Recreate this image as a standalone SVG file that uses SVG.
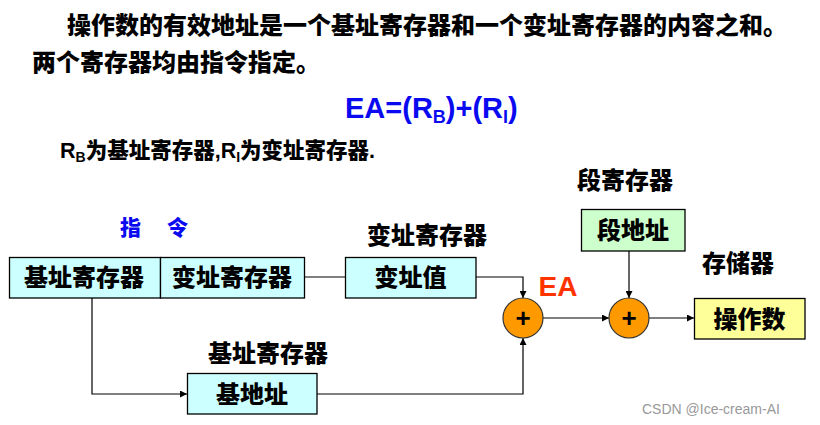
<svg xmlns="http://www.w3.org/2000/svg" width="820" height="425" viewBox="0 0 820 425">
<defs>
<style>
.t{font-family:"Liberation Sans","Noto Sans CJK SC",sans-serif;font-weight:900;fill:#000}
.lbl{font-size:24px;text-anchor:middle}
.box{stroke:#000;stroke-width:1.3}
.cy{fill:#CCFFFF}
.gr{fill:#CCFFCC}
.ye{fill:#FFFF99}
.add{fill:#FF9900;stroke:#333;stroke-width:1.2}
.ln{fill:none;stroke:#000;stroke-width:1.2}
.blue{fill:#0A0AF0}
.plus{font-family:"Liberation Sans",sans-serif;font-size:26px;font-weight:bold;text-anchor:middle;fill:#000}
</style>
<marker id="ar" viewBox="0 0 10 10" refX="10" refY="5" markerWidth="7" markerHeight="7" markerUnits="userSpaceOnUse" orient="auto">
<path d="M0,0 L10,5 L0,10 z" fill="#000"/>
</marker>
</defs>
<rect width="820" height="425" fill="#fff"/>

<text class="t" x="67" y="34" font-size="24">操作数的有效地址是一个基址寄存器和一个变址寄存器的内容之和。</text>
<text class="t" x="32" y="71" font-size="24">两个寄存器均由指令指定。</text>
<text class="t blue" x="345" y="118" font-size="29">EA=(R<tspan font-size="18" dy="5">B</tspan><tspan dy="-5">)+(R</tspan><tspan font-size="18" dy="5">I</tspan><tspan dy="-5">)</tspan></text>
<text class="t" x="60" y="158" font-size="21.5">R<tspan font-size="14" dy="4">B</tspan><tspan dy="-4">为基址寄存器,R</tspan><tspan font-size="14" dy="4">I</tspan><tspan dy="-4">为变址寄存器.</tspan></text>

<g id="connectors">
<line class="ln" x1="304" y1="277" x2="345" y2="277"/>
<polyline class="ln" points="476,277 523,277 523,298" marker-end="url(#ar)"/>
<polyline class="ln" points="92,298 92,394 187,394" marker-end="url(#ar)"/>
<polyline class="ln" points="317,394 523,394 523,338" marker-end="url(#ar)"/>
<line class="ln" x1="543" y1="318" x2="609" y2="318" marker-end="url(#ar)"/>
<line class="ln" x1="629" y1="251" x2="629" y2="298" marker-end="url(#ar)"/>
<line class="ln" x1="649" y1="318" x2="694" y2="318" marker-end="url(#ar)"/>
</g>

<g id="instruction">
<text class="t blue" x="120" y="235" font-size="21">指</text>
<text class="t blue" x="167" y="235" font-size="21">令</text>
<rect class="box cy" x="9.5" y="257.5" width="151" height="40.5"/>
<rect class="box cy" x="160.5" y="257.5" width="144" height="40.5"/>
<text class="t lbl" x="84" y="286">基址寄存器</text>
<text class="t lbl" x="232" y="286">变址寄存器</text>
</g>

<g id="index-value">
<text class="t lbl" x="427" y="244">变址寄存器</text>
<rect class="box cy" x="345.5" y="257.5" width="130.5" height="40.5"/>
<text class="t lbl" x="410.5" y="286">变址值</text>
</g>

<g id="base-address">
<text class="t lbl" x="268" y="362">基址寄存器</text>
<rect class="box cy" x="187.5" y="373.5" width="129.5" height="40.5"/>
<text class="t lbl" x="252" y="403">基地址</text>
</g>

<g id="adder1">
<circle class="add" cx="523" cy="318" r="20"/>
<text class="plus" x="523" y="327">+</text>
<text class="t" x="558" y="296" font-size="28" text-anchor="middle" style="fill:#FF3300">EA</text>
</g>

<g id="segment">
<text class="t lbl" x="625" y="189">段寄存器</text>
<rect class="box gr" x="581.5" y="209.5" width="103.5" height="41.5"/>
<text class="t lbl" x="633" y="239">段地址</text>
</g>

<g id="adder2">
<circle class="add" cx="629" cy="318" r="20"/>
<text class="plus" x="629" y="327">+</text>
</g>

<g id="memory">
<text class="t lbl" x="738" y="272">存储器</text>
<rect class="box ye" x="694.5" y="298.5" width="110.5" height="40.5"/>
<text class="t lbl" x="749.5" y="328">操作数</text>
</g>

<text x="642" y="414" font-family="Liberation Sans, sans-serif" font-size="14" fill="#999">CSDN @Ice-cream-AI</text>
</svg>
